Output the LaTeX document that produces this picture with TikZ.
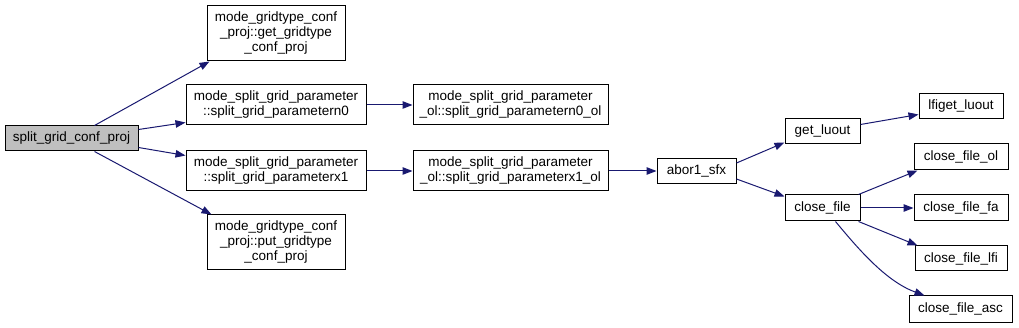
\documentclass[tikz,border=0pt]{standalone}
\usepackage{fontspec}
\setmainfont{Liberation Sans}
\usetikzlibrary{arrows.meta,calc}
\definecolor{edgeblue}{HTML}{191970}
\definecolor{rootgray}{HTML}{BFBFBF}
\begin{document}
\begin{tikzpicture}[x=1pt,y=-1pt,
  box/.style={draw=black,line width=1pt,fill=white,inner sep=0pt,align=center,
    font=\fontsize{13.5}{15}\selectfont},
  edge/.style={draw=edgeblue,line width=1pt,-{Triangle[length=10pt,width=7.5pt]}}]
\useasboundingbox (0,0) rectangle (1019,328);
\node[box,fill=rootgray,minimum width=133pt,minimum height=25pt] (sgcp) at (71.5,138.5) {split\_grid\_conf\_proj};
\node[box,minimum width=138pt,minimum height=55pt] (getg) at (276,33.5) {mode\_gridtype\_conf\\\_proj::get\_gridtype\\\_conf\_proj};
\node[box,minimum width=180pt,minimum height=40pt] (n0) at (276,105) {mode\_split\_grid\_parameter\\::split\_grid\_parametern0};
\node[box,minimum width=180pt,minimum height=40pt] (x1) at (276,171) {mode\_split\_grid\_parameter\\::split\_grid\_parameterx1};
\node[box,minimum width=138pt,minimum height=55pt] (putg) at (276,242.5) {mode\_gridtype\_conf\\\_proj::put\_gridtype\\\_conf\_proj};
\node[box,minimum width=195pt,minimum height=40pt] (n0ol) at (510.5,105) {mode\_split\_grid\_parameter\\\_ol::split\_grid\_parametern0\_ol};
\node[box,minimum width=195pt,minimum height=40pt] (x1ol) at (510.5,171) {mode\_split\_grid\_parameter\\\_ol::split\_grid\_parameterx1\_ol};
\node[box,minimum width=79pt,minimum height=25pt] (abor) at (696.5,171) {abor1\_sfx};
\node[box,minimum width=75pt,minimum height=25pt] (getl) at (822.5,131.5) {get\_luout};
\node[box,minimum width=75pt,minimum height=26pt] (closef) at (822.5,208) {close\_file};
\node[box,minimum width=84pt,minimum height=25pt] (lfig) at (961,106.5) {lfiget\_luout};
\node[box,minimum width=94pt,minimum height=26pt] (cfol) at (961,157) {close\_file\_ol};
\node[box,minimum width=94pt,minimum height=26pt] (cffa) at (961,208) {close\_file\_fa};
\node[box,minimum width=92pt,minimum height=25pt] (cflfi) at (961,258.5) {close\_file\_lfi};
\node[box,minimum width=103pt,minimum height=26pt] (cfasc) at (960.5,309) {close\_file\_asc};
\draw[edge] ($(sgcp.north west)+(90,0)$) -- ($(getg.south west)+(3,0)$);
\draw[edge] ($(sgcp.north east)+(0,4)$) -- ($(n0.south west)+(0,-3)$);
\draw[edge] ($(sgcp.south east)+(0,-4)$) -- ($(x1.north west)+(0,5)$);
\draw[edge] ($(sgcp.south west)+(90,0)$) -- ($(putg.north west)+(5,0)$);
\draw[edge] (n0.east) -- (n0ol.west);
\draw[edge] (x1.east) -- (x1ol.west);
\draw[edge] (x1ol.east) -- (abor.west);
\draw[edge] ($(abor.north east)+(0,5)$) -- ($(getl.south west)+(0,-2)$);
\draw[edge] ($(abor.south east)+(0,-5)$) -- ($(closef.north west)+(0,2)$);
\draw[edge] ($(getl.north east)+(0,6)$) -- ($(lfig.south west)+(0,-5)$);
\draw[edge] ($(closef.north east)+(-2,0)$) -- ($(cfol.south west)+(4,0)$);
\draw[edge] (closef.east) -- (cffa.west);
\draw[edge] ($(closef.south east)+(-2,0)$) -- ($(cflfi.north west)+(3,0)$);
\draw[edge] ($(closef.south west)+(51,0)$) .. controls ($(closef.south west)+(75,29)$) and ($(cfasc.north west)+(-22,-14)$) .. ($(cfasc.north west)+(16,0)$);
\end{tikzpicture}
\end{document}
